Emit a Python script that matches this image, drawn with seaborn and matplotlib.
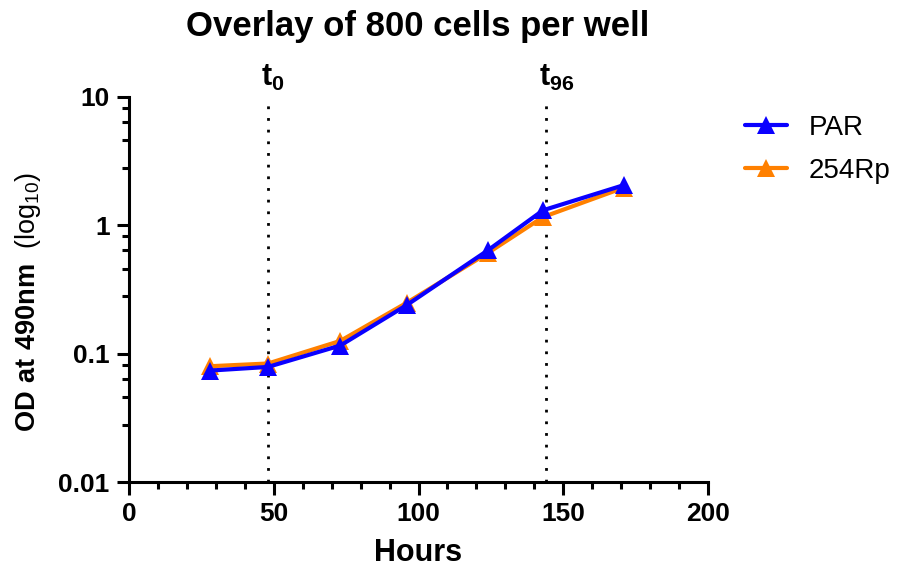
import numpy as np
import pandas as pd
import matplotlib
matplotlib.use("Agg")
import matplotlib.pyplot as plt
import seaborn as sns
from matplotlib.ticker import FixedLocator, NullFormatter

# dados
horas = [28, 48, 73, 96, 124, 143, 171]
od_par = [0.074, 0.079, 0.116, 0.24, 0.64, 1.31, 2.06]
od_254rp = [0.080, 0.084, 0.126, 0.25, 0.61, 1.16, 1.97]
linhas_ref = [48, 144]
rotulos_ref = ["0", "96"]

cor_par = "#0A00FF"
cor_254 = "#FF8000"

sns.set_theme(style="ticks")
plt.rcParams["font.family"] = ["Liberation Sans", "DejaVu Sans"]
plt.rcParams.update({
    "mathtext.fontset": "custom",
    "mathtext.rm": "Liberation Sans",
    "mathtext.bf": "Liberation Sans:bold",
    "axes.linewidth": 2.2,
    "text.color": "black",
    "axes.labelcolor": "black",
    "xtick.color": "black",
    "ytick.color": "black",
    "axes.edgecolor": "black",
})

df = pd.DataFrame({
    "Hours": horas * 2,
    "OD": od_par + od_254rp,
    "grupo": ["PAR"] * len(horas) + ["254Rp"] * len(horas),
})

fig = plt.figure(figsize=(9.02, 5.70), dpi=100)
ax = fig.add_axes([0.143, 0.154, 0.642, 0.676])

# laranja por baixo, azul por cima
sns.lineplot(data=df[df["grupo"] == "254Rp"], x="Hours", y="OD", ax=ax, color=cor_254,
             marker="^", markersize=13, markeredgewidth=0, linewidth=3, label="254Rp")
sns.lineplot(data=df[df["grupo"] == "PAR"], x="Hours", y="OD", ax=ax, color=cor_par,
             marker="^", markersize=13, markeredgewidth=0, linewidth=3, label="PAR")

for xv, rot in zip(linhas_ref, rotulos_ref):
    ax.axvline(xv, color="black", linestyle=(0, (1, 3.2)), linewidth=2, zorder=0)
    ax.text(xv - 2.5, 10.8, r"t$_{\mathbf{" + rot + "}}$", ha="left",
            va="bottom", fontsize=22, fontweight="bold")

ax.set_yscale("log")
ax.set_ylim(0.01, 10)
ax.set_xlim(0, 200)
ax.set_xticks([0, 50, 100, 150, 200])
ax.xaxis.set_minor_locator(FixedLocator(np.arange(0, 201, 10)))
ax.set_yticks([0.01, 0.1, 1, 10])
ax.set_yticklabels(["0.01", "0.1", "1", "10"])
menores = [d * m for d in [0.01, 0.1, 1] for m in [2.8, 4.6, 6.4, 8.2]]
ax.yaxis.set_minor_locator(FixedLocator(menores))
ax.yaxis.set_minor_formatter(NullFormatter())

ax.tick_params(axis="both", which="major", length=9, width=2.2, labelsize=19, pad=5)
ax.tick_params(axis="both", which="minor", length=5, width=2.2)
for lab in ax.get_xticklabels() + ax.get_yticklabels():
    lab.set_fontweight("bold")

sns.despine(ax=ax)

ax.set_xlabel("Hours", fontsize=22, fontweight="bold", labelpad=9)
ax.set_ylabel("")
fig.text(0.031, 0.47, r"$\mathbf{OD\ at\ 490nm}$  (log$_{10}$)", rotation=90,
         ha="center", va="center", fontsize=19.5)

fig.suptitle("Overlay of 800 cells per well", x=0.463, y=0.982, fontsize=25, fontweight="bold")

h, l = ax.get_legend_handles_labels()
ax.legend(h[::-1], l[::-1], loc="upper left", bbox_to_anchor=(0.826, 0.798),
          bbox_transform=fig.transFigure, frameon=False, handlelength=1.5,
          handletextpad=0.8, labelspacing=0.6, borderpad=0, borderaxespad=0,
          prop={"size": 20})

fig.savefig("out.png", dpi=100)
